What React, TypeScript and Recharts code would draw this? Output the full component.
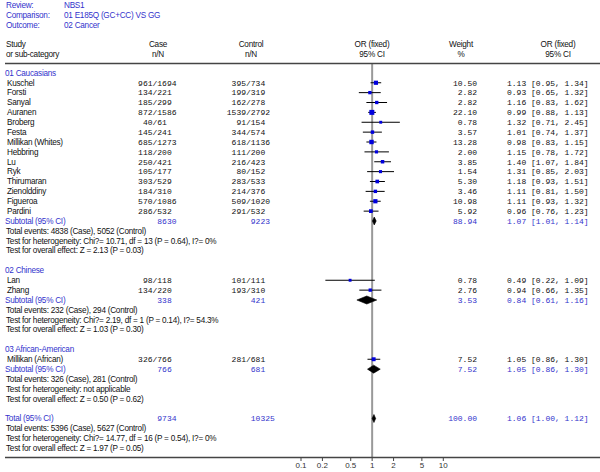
import { ComposedChart, Scatter, XAxis, YAxis, ErrorBar, ReferenceLine } from 'recharts'

// ---- data ----
const groupNames = ['01 Caucasians', '02 Chinese', '03 African-American']

const studyNames = [
  'Kuschel', 'Forsti', 'Sanyal', 'Auranen', 'Broberg', 'Festa', 'Millikan (Whites)', 'Hebbring',
  'Lu', 'Ryk', 'Thirumaran', 'Zienolddiny', 'Figueroa', 'Pardini', 'Lan', 'Zhang', 'Millikan (African)',
]
const studyGroup = [0, 0, 0, 0, 0, 0, 0, 0, 0, 0, 0, 0, 0, 0, 1, 1, 2]
const caseEvents = [961, 134, 185, 872, 40, 145, 685, 118, 250, 105, 303, 184, 570, 286, 98, 134, 326]
const caseTotal = [1694, 221, 299, 1586, 61, 241, 1273, 200, 421, 177, 529, 310, 1086, 532, 118, 220, 766]
const controlEvents = [395, 199, 162, 1539, 91, 344, 618, 111, 216, 80, 283, 214, 509, 291, 101, 193, 281]
const controlTotal = [734, 319, 278, 2792, 154, 574, 1136, 200, 423, 152, 533, 376, 1020, 532, 111, 310, 681]
const weights = [10.5, 2.82, 2.82, 22.1, 0.78, 3.57, 13.28, 2.0, 3.85, 1.54, 5.3, 3.46, 10.98, 5.92, 0.78, 2.76, 7.52]
const oddsRatio = [1.13, 0.93, 1.16, 0.99, 1.32, 1.01, 0.98, 1.15, 1.4, 1.31, 1.18, 1.11, 1.11, 0.96, 0.49, 0.94, 1.05]
const ciLow = [0.95, 0.65, 0.83, 0.88, 0.71, 0.74, 0.83, 0.78, 1.07, 0.85, 0.93, 0.81, 0.93, 0.76, 0.22, 0.66, 0.86]
const ciHigh = [1.34, 1.32, 1.62, 1.13, 2.45, 1.37, 1.15, 1.72, 1.84, 2.03, 1.51, 1.5, 1.32, 1.23, 1.09, 1.35, 1.3]

const subCase = [8630, 338, 766]
const subControl = [9223, 421, 681]
const subWeight = [88.94, 3.53, 7.52]
const subOR = [1.07, 0.84, 1.05]
const subLow = [1.01, 0.61, 0.86]
const subHigh = [1.14, 1.16, 1.3]
const subCaseEvents = [4838, 232, 326]
const subControlEvents = [5052, 294, 281]
const subHetero = ['Chi?= 10.71, df = 13 (P = 0.64), I?= 0%', 'Chi?= 2.19, df = 1 (P = 0.14), I?= 54.3%', 'not applicable']
const subOverall = ['Z = 2.13 (P = 0.03)', 'Z = 1.03 (P = 0.30)', 'Z = 0.50 (P = 0.62)']

const totalCase = 9734
const totalControl = 10325
const totalWeight = 100
const totalOR = 1.06
const totalLow = 1.0
const totalHigh = 1.12
const totalCaseEvents = 5396
const totalControlEvents = 5627
const totalHetero = 'Chi?= 14.77, df = 16 (P = 0.54), I?= 0%'
const totalOverall = 'Z = 1.97 (P = 0.05)'

const xTicks = [0.1, 0.2, 0.5, 1, 2, 5, 10]

// ---- layout ----
const BLUE = '#3333cc'
const SANS = "'Liberation Sans', Arial, sans-serif"
const MONO = "'Liberation Mono', 'Courier New', monospace"
const CASE_SLASH = 152.5
const CTRL_SLASH = 246
const WEIGHT_RIGHT = 477
const OR_LEFT = 507

const fmtOR = (o: number, l: number, h: number) => `${o.toFixed(2)} [${l.toFixed(2)}, ${h.toFixed(2)}]`

type TextRow = {
  x: number
  y: number
  kind: 'group' | 'study' | 'subtotal' | 'note'
  label: string
  caseA?: string
  caseB?: string
  ctrlA?: string
  ctrlB?: string
  weight?: string
  or?: string
}

const textRows: TextRow[] = []
const studyPoints: { x: number; y: number; err: [number, number]; w: number }[] = []
const diamonds: { x: number; y: number }[][] = []

let row = 0
const addSummary = (
  label: string, c: number, k: number, w: number, o: number, l: number, h: number,
  ce: number, ke: number, het: string, ov: string,
) => {
  textRows.push({
    x: 1, y: row, kind: 'subtotal', label, caseB: String(c), ctrlB: String(k),
    weight: w.toFixed(2), or: fmtOR(o, l, h),
  })
  diamonds.push([
    { x: l, y: row },
    { x: o, y: row },
    { x: h, y: row },
  ])
  row++
  textRows.push({ x: 1, y: row++, kind: 'note', label: `Total events: ${ce} (Case), ${ke} (Control)` })
  textRows.push({ x: 1, y: row++, kind: 'note', label: `Test for heterogeneity: ${het}` })
  textRows.push({ x: 1, y: row++, kind: 'note', label: `Test for overall effect: ${ov}` })
  row++
}

groupNames.forEach((g, gi) => {
  textRows.push({ x: 1, y: row++, kind: 'group', label: g })
  studyNames.forEach((s, i) => {
    if (studyGroup[i] !== gi) return
    textRows.push({
      x: 1, y: row, kind: 'study', label: s,
      caseA: String(caseEvents[i]), caseB: '/' + caseTotal[i],
      ctrlA: String(controlEvents[i]), ctrlB: '/' + controlTotal[i],
      weight: weights[i].toFixed(2), or: fmtOR(oddsRatio[i], ciLow[i], ciHigh[i]),
    })
    studyPoints.push({
      x: oddsRatio[i], y: row, err: [oddsRatio[i] - ciLow[i], ciHigh[i] - oddsRatio[i]], w: weights[i],
    })
    row++
  })
  addSummary('Subtotal (95% CI)', subCase[gi], subControl[gi], subWeight[gi], subOR[gi], subLow[gi], subHigh[gi],
    subCaseEvents[gi], subControlEvents[gi], subHetero[gi], subOverall[gi])
})
addSummary('Total (95% CI)', totalCase, totalControl, totalWeight, totalOR, totalLow, totalHigh,
  totalCaseEvents, totalControlEvents, totalHetero, totalOverall)

const lastRow = row - 2

function TextRowShape(props: any) {
  const { cy, payload } = props
  const p = payload as TextRow
  const blue = p.kind === 'group' || p.kind === 'subtotal'
  const col = blue ? BLUE : '#111'
  const sans = { fontFamily: SANS, fontSize: 8.2, letterSpacing: -0.25, fill: col }
  const mono = { fontFamily: MONO, fontSize: 8, fill: col }
  const lx = p.kind === 'study' ? 7 : p.kind === 'note' ? 6 : 5
  return (
    <g>
      <text x={lx} y={cy} dy="0.35em" style={sans}>{p.label}</text>
      {p.caseA && <text x={CASE_SLASH} y={cy} dy="0.35em" textAnchor="end" style={mono}>{p.caseA}</text>}
      {p.caseB && (
        <text x={p.kind === 'study' ? CASE_SLASH : CASE_SLASH + 4.8} y={cy} dy="0.35em" style={mono}>{p.caseB}</text>
      )}
      {p.ctrlA && <text x={CTRL_SLASH} y={cy} dy="0.35em" textAnchor="end" style={mono}>{p.ctrlA}</text>}
      {p.ctrlB && (
        <text x={p.kind === 'study' ? CTRL_SLASH : CTRL_SLASH + 4.8} y={cy} dy="0.35em" style={mono}>{p.ctrlB}</text>
      )}
      {p.weight && <text x={WEIGHT_RIGHT} y={cy} dy="0.35em" textAnchor="end" style={mono}>{p.weight}</text>}
      {p.or && <text x={OR_LEFT} y={cy} dy="0.35em" style={mono}>{p.or}</text>}
    </g>
  )
}

function SquareShape(props: any) {
  const { cx, cy, payload } = props
  const s = 2.4 + 0.55 * Math.sqrt(payload.w)
  return <rect x={cx - s / 2} y={cy - s / 2} width={s} height={s} fill="#0000dd" />
}

const diamondLine = (props: any) => {
  const pts = props.points as { x: number; y: number }[]
  if (!pts || pts.length < 3) return <g />
  const [a, b, c] = pts
  const d = `M${a.x},${a.y}L${b.x},${b.y - 4}L${c.x},${c.y}L${b.x},${b.y + 4}Z`
  return <path d={d} fill="#000" stroke="#000" strokeWidth={0.6} />
}

export default function App() {
  return (
    <div style={{ position: 'absolute', left: 0, top: 0, width: 600, height: 472, background: '#fff' }}>
      <ComposedChart width={600} height={472} margin={{ top: 63, right: 156.7, bottom: 0, left: 301 }}>
        <XAxis
          type="number"
          dataKey="x"
          scale="log"
          domain={[0.1, 10]}
          ticks={xTicks}
          height={14}
          axisLine={false}
          tickSize={3}
          tickLine={{ stroke: '#444' }}
          tick={{ fontSize: 8, fill: '#333', fontFamily: SANS }}
          tickMargin={1}
        />
        <YAxis type="number" dataKey="y" hide domain={[-1, lastRow + 1]} reversed />
        <ReferenceLine x={1} stroke="#999" strokeWidth={2} />
        <Scatter data={studyPoints} shape={<SquareShape />} isAnimationActive={false}>
          <ErrorBar dataKey="err" direction="x" width={0} stroke="#000" strokeWidth={1} />
        </Scatter>
        {diamonds.map((d, i) => (
          <Scatter key={i} data={d} line={diamondLine} shape={() => <g />} isAnimationActive={false} />
        ))}
        <Scatter data={textRows} shape={<TextRowShape />} isAnimationActive={false} />
      </ComposedChart>
      <svg width={600} height={472} style={{ position: 'absolute', left: 0, top: 0, pointerEvents: 'none' }}>
        <g style={{ fontFamily: SANS, fontSize: 8.2, letterSpacing: -0.25 }}>
          <text x={6} y={5} dy="0.35em" fill={BLUE}>Review:</text>
          <text x={64} y={5} dy="0.35em" fill={BLUE}>NBS1</text>
          <text x={6} y={15} dy="0.35em" fill={BLUE}>Comparison:</text>
          <text x={64} y={15} dy="0.35em" fill={BLUE}>01 E185Q (GC+CC) VS GG</text>
          <text x={6} y={25} dy="0.35em" fill={BLUE}>Outcome:</text>
          <text x={64} y={25} dy="0.35em" fill={BLUE}>02 Cancer</text>
          <text x={6} y={44} dy="0.35em" fill="#111">Study</text>
          <text x={6} y={54} dy="0.35em" fill="#111">or sub-category</text>
          <text x={158} y={44} dy="0.35em" textAnchor="middle" fill="#111">Case</text>
          <text x={158} y={54} dy="0.35em" textAnchor="middle" fill="#111">n/N</text>
          <text x={251} y={44} dy="0.35em" textAnchor="middle" fill="#111">Control</text>
          <text x={251} y={54} dy="0.35em" textAnchor="middle" fill="#111">n/N</text>
          <text x={372} y={44} dy="0.35em" textAnchor="middle" fill="#111">OR (fixed)</text>
          <text x={372} y={54} dy="0.35em" textAnchor="middle" fill="#111">95% CI</text>
          <text x={461} y={44} dy="0.35em" textAnchor="middle" fill="#111">Weight</text>
          <text x={461} y={54} dy="0.35em" textAnchor="middle" fill="#111">%</text>
          <text x={558} y={44} dy="0.35em" textAnchor="middle" fill="#111">OR (fixed)</text>
          <text x={558} y={54} dy="0.35em" textAnchor="middle" fill="#111">95% CI</text>
        </g>
        <line x1={5} x2={600} y1={63.5} y2={63.5} stroke="#444" strokeWidth={1.5} />
        <line x1={5} x2={600} y1={457.5} y2={457.5} stroke="#444" strokeWidth={1.5} />
      </svg>
    </div>
  )
}
